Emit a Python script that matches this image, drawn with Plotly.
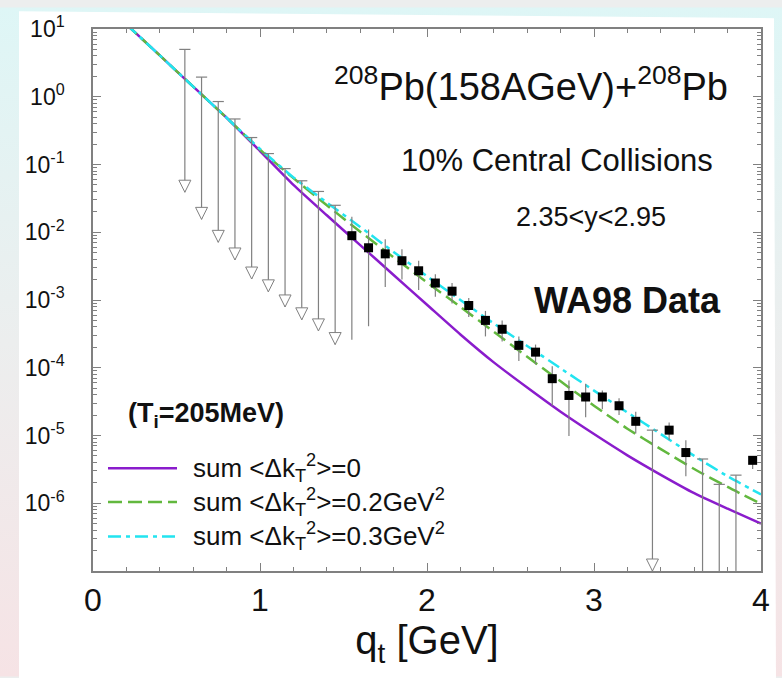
import base64
import plotly.graph_objects as go

# ---------------- data ----------------
# model curves (q_t in GeV)
q_curve = [0.2, 0.4, 0.6, 0.8, 1.0, 1.2, 1.4, 1.6, 1.8, 2.0,
           2.2, 2.4, 2.6, 2.8, 3.0, 3.2, 3.4, 3.6, 3.8, 4.0]
sum_dk0 = [11.7, 4.07, 1.41, 0.49, 0.158, 0.050, 0.0178, 0.00646, 0.00234, 8.5e-4,
           3.1e-4, 1.2e-4, 5.1e-5, 2.24e-5, 1.05e-5, 5.1e-6, 2.63e-6, 1.41e-6, 8.3e-7, 5.0e-7]
sum_dk02 = [11.7, 4.07, 1.41, 0.49, 0.166, 0.063, 0.0251, 0.0102, 0.00427, 0.00182,
            7.9e-4, 3.4e-4, 1.45e-4, 6.3e-5, 2.75e-5, 1.26e-5, 6.3e-6, 3.2e-6, 1.74e-6, 9.8e-7]
sum_dk03 = [11.7, 4.07, 1.41, 0.49, 0.170, 0.0646, 0.0275, 0.0120, 0.00513, 0.00224,
            1.0e-3, 4.5e-4, 2.1e-4, 9.8e-5, 4.6e-5, 2.19e-5, 1.05e-5, 5.0e-6, 2.5e-6, 1.35e-6]

# WA98 data points
q_data = [1.55, 1.65, 1.75, 1.85, 1.95, 2.05, 2.15, 2.25, 2.35, 2.45, 2.55,
          2.65, 2.75, 2.85, 2.95, 3.05, 3.15, 3.25, 3.45, 3.55, 3.95]
y_data = [8.9e-3, 5.9e-3, 4.8e-3, 3.8e-3, 2.7e-3, 1.78e-3, 1.35e-3, 8.3e-4, 5.0e-4, 3.7e-4, 2.14e-4,
          1.7e-4, 6.9e-5, 3.9e-5, 3.7e-5, 3.7e-5, 2.75e-5, 1.62e-5, 1.2e-5, 5.6e-6, 4.3e-6]
y_data_hi = [1.7e-2, 1.1e-2, 7.9e-3, 5.6e-3, 3.8e-3, 2.4e-3, 1.78e-3, 1.07e-3, 6.9e-4, 5.0e-4, 2.9e-4,
             2.2e-4, 1.05e-4, 6.5e-5, 5.8e-5, 4.6e-5, 3.55e-5, 2.24e-5, 1.55e-5, 8.5e-6, 5.0e-6]
y_data_lo = [2.6e-4, 4.1e-4, 1.55e-3, 2.0e-3, 1.4e-3, 1.12e-3, 8.9e-4, 5.6e-4, 2.9e-4, 2.45e-4, 1.26e-4,
             1.12e-4, 2.75e-5, 9.8e-6, 1.86e-5, 2.45e-5, 2.0e-5, 1.07e-5, 8.5e-6, 2.5e-6, 3.2e-6]

# upper limits (cap value and arrow tip)
q_lim = [0.55, 0.65, 0.75, 0.85, 0.95, 1.05, 1.15, 1.25, 1.35, 1.45, 3.35, 3.65, 3.75, 3.85]
y_lim_cap = [5.0, 1.95, 0.85, 0.47, 0.25, 0.145, 0.087, 0.0575, 0.040, 0.025, 1.2e-5, 4.5e-6, 1.9e-6, 2.6e-6]
y_lim_tip = [0.039, 0.0155, 0.0071, 0.0039, 0.00204, 0.00132, 7.9e-4, 5.1e-4, 3.5e-4, 2.2e-4, 1.0e-7, 2e-8, 2e-8, 2e-8]

y_tickvals = [1e-6, 1e-5, 1e-4, 1e-3, 1e-2, 1e-1, 1e0, 1e1]
y_ticktext = ["10<sup>-6</sup>", "10<sup>-5</sup>", "10<sup>-4</sup>", "10<sup>-3</sup>",
              "10<sup>-2</sup>", "10<sup>-1</sup>", "10<sup>0</sup>", "10<sup>1</sup>"]
x_tickvals = [0, 1, 2, 3, 4]

legend_names = ["sum &lt;Δk<sub>T</sub><sup>2</sup>&gt;=0",
                "sum &lt;Δk<sub>T</sub><sup>2</sup>&gt;=0.2GeV<sup>2</sup>",
                "sum &lt;Δk<sub>T</sub><sup>2</sup>&gt;=0.3GeV<sup>2</sup>"]

# ---------------- style ----------------
W, H = 782, 678
L, R, T, B = 93, 21, 22, 107
PW, PH = W - L - R, H - T - B
FONT = "Liberation Sans, Arial, sans-serif"
NARROW = "Liberation Sans Narrow, Arial Narrow, Liberation Sans, Arial, sans-serif"
GRAY = "#808080"
PURPLE = "#8a1ccc"
GREEN = "#62b83e"
CYAN = "#22e4f0"
c_styles = [(PURPLE, "solid"), (GREEN, "14px,6px"), (CYAN, "13px,5px,4px,5px")]


def pxx(x):
    return (x - L) / PW


def pxy(y):
    return (H - B - y) / PH


fig = go.Figure()

for vals, name, (col, dash) in zip([sum_dk0, sum_dk02, sum_dk03], legend_names, c_styles):
    fig.add_trace(go.Scatter(x=q_curve, y=vals, mode="lines", name=name, showlegend=False,
                             line=dict(color=col, width=2.5, dash=dash, shape="spline", smoothing=0.6)))

# upper-limit stems
sx, sy = [], []
for q, c, t in zip(q_lim, y_lim_cap, y_lim_tip):
    sx += [q, q, None]
    sy += [c, t, None]
fig.add_trace(go.Scatter(x=sx, y=sy, mode="lines", line=dict(color=GRAY, width=1.2),
                         showlegend=False, hoverinfo="skip"))
fig.add_trace(go.Scatter(x=q_lim, y=y_lim_cap, mode="markers", showlegend=False,
                         marker=dict(symbol="line-ew", size=8, line=dict(color=GRAY, width=1.2))))
fig.add_trace(go.Scatter(x=q_lim, y=y_lim_tip, mode="markers", showlegend=False,
                         marker=dict(symbol="arrow-down", size=12, color="white",
                                     line=dict(color=GRAY, width=1))))

# data
fig.add_trace(go.Scatter(
    x=q_data, y=y_data, mode="markers", name="WA98 Data", showlegend=False,
    marker=dict(symbol="square", size=9, color="black"),
    error_y=dict(type="data", symmetric=False,
                 array=[h - v for h, v in zip(y_data_hi, y_data)],
                 arrayminus=[v - l for v, l in zip(y_data, y_data_lo)],
                 color=GRAY, thickness=1.2, width=0)))

# background gradient (svg image) + white panel
svg = ('<svg xmlns="http://www.w3.org/2000/svg" width="%d" height="%d" preserveAspectRatio="none">'
       '<defs><linearGradient id="g" x1="0" y1="0" x2="0" y2="1">'
       '<stop offset="0" stop-color="rgb(222,246,246)"/>'
       '<stop offset="0.5" stop-color="rgb(236,238,238)"/>'
       '<stop offset="1" stop-color="rgb(246,227,229)"/>'
       '</linearGradient></defs><rect width="100%%" height="100%%" fill="url(#g)"/></svg>') % (W, H)
bg_src = "data:image/svg+xml;base64," + base64.b64encode(svg.encode()).decode()
images = [dict(source=bg_src, xref="paper", yref="paper", x=pxx(0), y=pxy(0),
               sizex=W / PW, sizey=H / PH, sizing="stretch", xanchor="left", yanchor="top",
               layer="below")]

shapes = [dict(type="path", xref="paper", yref="paper", layer="below",
               path="M %f,%f L %f,%f L %f,%f L %f,%f Z" % (
                   pxx(19), pxy(4), pxx(774), pxy(11), pxx(776), pxy(700), pxx(19), pxy(700)),
               fillcolor="white", line=dict(width=0))]

# manual legend samples
leg_y = [467, 501, 536]
for yy, (col, dash) in zip(leg_y, c_styles):
    shapes.append(dict(type="line", xref="paper", yref="paper", x0=pxx(108), x1=pxx(177),
                       y0=pxy(yy), y1=pxy(yy), line=dict(color=col, width=2.5, dash=dash)))

ann = []
ann.append(dict(text="<sup>208</sup>Pb(158AGeV)+<sup>208</sup>Pb", x=pxx(531), y=pxy(78),
                xanchor="center", yanchor="middle", font=dict(size=38, family=FONT, color="#111")))
ann.append(dict(text="10% Central Collisions", x=pxx(557), y=pxy(155),
                xanchor="center", yanchor="middle", font=dict(size=31, family=FONT, color="#111")))
ann.append(dict(text="2.35&lt;y&lt;2.95", x=pxx(591), y=pxy(212),
                xanchor="center", yanchor="middle", font=dict(size=27, family=FONT, color="#111")))
ann.append(dict(text="<b>WA98 Data</b>", x=pxx(627), y=pxy(297),
                xanchor="center", yanchor="middle", font=dict(size=36, family=FONT, color="#111")))
ann.append(dict(text="<b>(T<sub>i</sub>=205MeV)</b>", x=pxx(126), y=pxy(413),
                xanchor="left", yanchor="middle", font=dict(size=27, family=FONT, color="#111")))
for yy, name in zip(leg_y, legend_names):
    ann.append(dict(text=name, x=pxx(191), y=pxy(yy), xanchor="left", yanchor="middle",
                    font=dict(size=26, family=FONT, color="#111")))
for a in ann:
    a.update(xref="paper", yref="paper", showarrow=False)

fig.update_layout(
    width=W, height=H, margin=dict(l=L, r=R, t=T, b=B, pad=0),
    paper_bgcolor="rgb(236,238,238)", plot_bgcolor="white",
    images=images, shapes=shapes, annotations=ann, showlegend=False,
    font=dict(family=FONT, color="#111"),
)
fig.update_xaxes(
    range=[0, 4], tickvals=x_tickvals, ticks="inside", ticklen=8, tickwidth=1.2, tickcolor=GRAY,
    showline=True, linecolor=GRAY, linewidth=1.5, mirror="ticks", showgrid=False, zeroline=False,
    minor=dict(dtick=0.2, ticks="inside", ticklen=4, tickwidth=1, tickcolor=GRAY, showgrid=False),
    tickfont=dict(size=32, family=NARROW, color="#111"), ticklabelstandoff=0,
    title=dict(text="q<sub>t</sub> [GeV]", font=dict(size=40, family=NARROW, color="#111"), standoff=0),
)
minor_y = [k * 10.0 ** n for n in range(-7, 1) for k in range(2, 10)]
fig.update_yaxes(
    type="log", range=[-7, 1], tickvals=y_tickvals, ticktext=y_ticktext,
    ticks="inside", ticklen=8, tickwidth=1.2, tickcolor=GRAY,
    showline=True, linecolor=GRAY, linewidth=1.5, mirror="ticks", showgrid=False, zeroline=False,
    minor=dict(tickvals=minor_y, ticks="inside", ticklen=4, tickwidth=1, tickcolor=GRAY, showgrid=False),
    tickfont=dict(size=23, family=FONT, color="#111"), ticklabelstandoff=22,
)

fig.write_html("out.html")
